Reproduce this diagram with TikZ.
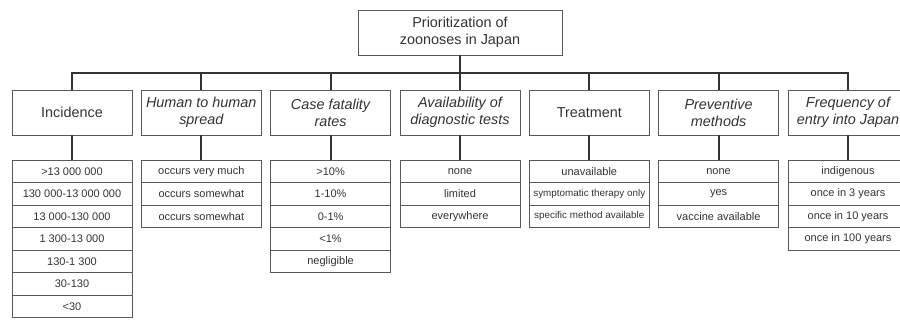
\documentclass[tikz,border=0pt]{standalone}
\usepackage{fontspec}
\setmainfont{Liberation Sans}
\tikzstyle{rootbox}=[draw=black!65, line width=0.6pt, text=black!80, align=center,
  minimum width=153pt, minimum height=33.75pt, outer sep=0pt,
  font=\fontsize{10.8}{12.75}\selectfont]
\tikzstyle{criterion} = [rootbox, minimum width=90pt]
\tikzstyle{criterioni} = [criterion, font=\fontsize{10.8}{12.75}\selectfont\itshape]
\tikzstyle{grade}=[draw=black!65, line width=0.6pt, text=black!80, anchor=north,
  minimum width=90pt, minimum height=16.875pt, inner sep=1pt, outer sep=0pt,
  font=\fontsize{8.25}{10}\selectfont]
\tikzstyle{grades} = [grade, font=\fontsize{7.4}{9}\selectfont]
\tikzstyle{line} = [draw, line width=1.5pt, color=black!80]
\newcommand{\topic}[1]{node (t) [rootbox] {#1}}
\newcommand{\criterion}[2]{node (c#1) [criterion] {#2}}
\newcommand{\criterioni}[2]{node (c#1) [criterioni] {#2}}
\newcommand{\grade}[3]{node (l#1#2) [grade] {#3}}
\newcommand{\grades}[3]{node (l#1#2) [grades] {#3}}
\begin{document}
\begin{tikzpicture}[x=0.75pt, y=-0.75pt]
  \useasboundingbox (0,0) rectangle (900,320);

  % Draw diagram elements
  \path (460,32.5) \topic{Prioritization of\\zoonoses in Japan};
  \path (t.south)+(-388,57.5) \criterion{1}{Incidence};
  \path (t.south)+(-258.7,57.5) \criterioni{2}{Human to human\\spread};
  \path (t.south)+(-129.4,57.5) \criterioni{3}{Case fatality\\rates};
  \path (t.south)+(0,57.5) \criterioni{4}{Availability of\\diagnostic tests};
  \path (t.south)+(129.3,57.5) \criterion{5}{Treatment};
  \path (t.south)+(258.6,57.5) \criterioni{6}{Preventive\\methods};
  \path (t.south)+(388,57.5) \criterioni{7}{Frequency of\\entry into Japan};

  % Incidence
  \path (c1.south)+(0,25) \grade{1}{1}{>13 000 000};
  \path (l11.south) \grade{1}{2}{130 000-13 000 000};
  \path (l12.south) \grade{1}{3}{13 000-130 000};
  \path (l13.south) \grade{1}{4}{1 300-13 000};
  \path (l14.south) \grade{1}{5}{130-1 300};
  \path (l15.south) \grade{1}{6}{30-130};
  \path (l16.south) \grade{1}{7}{<30};
  % Human to human spread
  \path (c2.south)+(0,25) \grade{2}{1}{occurs very much};
  \path (l21.south) \grade{2}{2}{occurs somewhat};
  \path (l22.south) \grade{2}{3}{occurs somewhat};
  % Case fatality rates
  \path (c3.south)+(0,25) \grade{3}{1}{>10\%};
  \path (l31.south) \grade{3}{2}{1-10\%};
  \path (l32.south) \grade{3}{3}{0-1\%};
  \path (l33.south) \grade{3}{4}{<1\%};
  \path (l34.south) \grade{3}{5}{negligible};
  % Diagnostic tests
  \path (c4.south)+(0,25) \grade{4}{1}{none};
  \path (l41.south) \grade{4}{2}{limited};
  \path (l42.south) \grade{4}{3}{everywhere};
  % Treatment
  \path (c5.south)+(0,25) \grade{5}{1}{unavailable};
  \path (l51.south) \grades{5}{2}{symptomatic therapy only};
  \path (l52.south) \grades{5}{3}{specific method available};
  % Preventive methods
  \path (c6.south)+(0,25) \grade{6}{1}{none};
  \path (l61.south) \grade{6}{2}{yes};
  \path (l62.south) \grade{6}{3}{vaccine available};
  % Frequency of entry
  \path (c7.south)+(0,25) \grade{7}{1}{indigenous};
  \path (l71.south) \grade{7}{2}{once in 3 years};
  \path (l72.south) \grade{7}{3}{once in 10 years};
  \path (l73.south) \grade{7}{4}{once in 100 years};

  % Connectors
  \coordinate (bus) at (460,73);
  \path [line] (c1.north) |- (c7.north |- bus) -- (c7.north);
  \foreach \i in {2,...,6}
    \path [line] (c\i.north |- bus) -- (c\i.north);
  \path [line] (t.south) -- (c4.north);
  \foreach \i in {1,...,7}
    \path [line] (c\i.south) -- (l\i1.north);
\end{tikzpicture}
\end{document}
